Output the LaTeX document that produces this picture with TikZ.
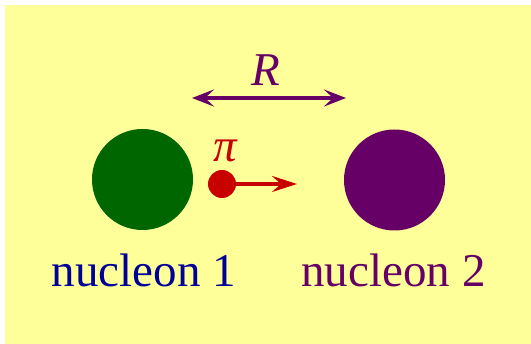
\documentclass[tikz,border=0pt]{standalone}
\usepackage{fontspec}
\setmainfont{Liberation Serif}
\usepackage{tikz}
\usetikzlibrary{arrows.meta}
\definecolor{pbg}{HTML}{FFFF99}
\definecolor{pgreen}{HTML}{006600}
\definecolor{ppurple}{HTML}{660066}
\definecolor{pred}{HTML}{C80000}
\definecolor{pblue}{HTML}{000099}

\begin{document}
\begin{tikzpicture}[
  x=1pt,y=-1pt,
  font=\fontsize{47}{56}\selectfont,
  nucleon/.style={circle,minimum size=101pt,inner sep=0pt},
  pion/.style={circle,fill=pred,minimum size=28pt,inner sep=0pt},
  lab/.style={anchor=base,inner sep=0pt},
  sym/.style={inner sep=0pt,font=\fontsize{47}{56}\selectfont\itshape},
  rar/.style={{Stealth[length=22pt,width=17pt,inset=9pt]}-{Stealth[length=22pt,width=17pt,inset=9pt]},
              draw=ppurple,line width=3.5pt},
  par/.style={-{Stealth[length=25pt,width=16pt,inset=9pt]},draw=pred,line width=3.6pt}]

% ---- background --------------------------------------------------------
\useasboundingbox (0,0) rectangle (531,344);
\fill[pbg] (5,5) rectangle (531,344);

% ---- separation R --------------------------------------------------------
\coordinate (rl) at (192,98);
\coordinate (rr) at (346,98);
\draw[rar] (rl) -- (rr);
\node[sym,ppurple] (rlab) at (266,70) {R};

% ---- the two nucleons and the pion -------------------------------------
\node[nucleon,fill=pgreen]  (n1) at (142.5,179.5) {};
\node[nucleon,fill=ppurple] (n2) at (394.5,180) {};
\node[pion] (pi) at (222,184) {};
\coordinate (pitip) at (297,184);
\draw[par] (pi.east) -- (pitip);
\node[sym,pred] (pilab) at (225,151) {π};

% ---- captions ------------------------------------------------------------
\node[lab,pblue]   (cap1) at (144,287)   {nucleon 1};
\node[lab,ppurple] (cap2) at (393.5,287) {nucleon 2};
\end{tikzpicture}
\end{document}
